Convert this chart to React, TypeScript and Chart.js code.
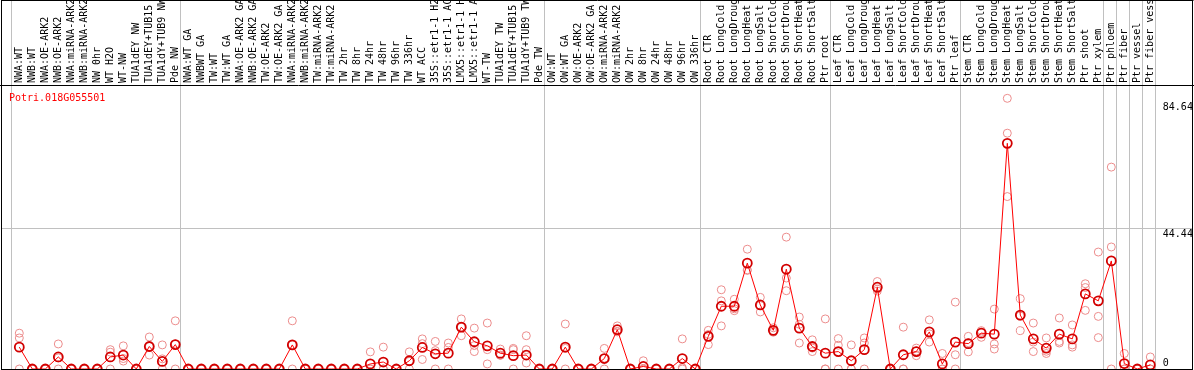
import React, { useEffect, useRef } from 'react';
import { Chart, registerables } from 'chart.js';

Chart.register(...registerables);

const GENE_ID = 'Potri.018G055501';

const CATEGORIES = [
  'NWA:WT', 'NWB:WT', 'NWA:OE-ARK2', 'NWB:OE-ARK2', 'NWA:miRNA-ARK2', 'NWB:miRNA-ARK2', 'NW 0hr', 'WT H2O', 'WT-NW',
  'TUA1dEY NW', 'TUA1dEY+TUB15 NW', 'TUA1dY+TUB9 NW', 'Pde NW',
  'NWA:WT GA', 'NWBWT GA', 'TW:WT', 'TW:WT GA', 'NWA:OE-ARK2 GA', 'NWB:OE-ARK2 GA', 'TW:OE-ARK2', 'TW:OE-ARK2 GA',
  'NWA:miRNA-ARK2', 'NWB:miRNA-ARK2', 'TW:miRNA-ARK2', 'TW:miRNA-ARK2', 'TW 2hr', 'TW 8hr', 'TW 24hr', 'TW 48hr',
  'TW 96hr', 'TW 336hr', 'WT ACC', '35S::etr1-1 H2O', '35S::etr1-1 ACC', 'LMX5::etr1-1 H2O', 'LMX5::etr1-1 ACC',
  'WT-TW', 'TUA1dEY TW', 'TUA1dEY+TUB15 TW', 'TUA1dY+TUB9 TW', 'Pde TW',
  'OW:WT', 'OW:WT GA', 'OW:OE-ARK2', 'OW:OE-ARK2 GA', 'OW:miRNA-ARK2', 'OW:miRNA-ARK2', 'OW 2hr', 'OW 8hr',
  'OW 24hr', 'OW 48hr', 'OW 96hr', 'OW 336hr',
  'Root CTR', 'Root LongCold', 'Root LongDrought', 'Root LongHeat', 'Root LongSalt', 'Root ShortCold',
  'Root ShortDrought', 'Root ShortHeat', 'Root ShortSalt', 'Ptr root',
  'Leaf CTR', 'Leaf LongCold', 'Leaf LongDrought', 'Leaf LongHeat', 'Leaf LongSalt', 'Leaf ShortCold',
  'Leaf ShortDrought', 'Leaf ShortHeat', 'Leaf ShortSalt', 'Ptr leaf',
  'Stem CTR', 'Stem LongCold', 'Stem LongDrought', 'Stem LongHeat', 'Stem LongSalt', 'Stem ShortCold',
  'Stem ShortDrought', 'Stem ShortHeat', 'Stem ShortSalt', 'Ptr shoot', 'Ptr xylem',
  'Ptr phloem', 'Ptr fiber', 'Ptr vessel', 'Ptr fiber vessel',
];

const MEAN_VALUES = [
  6.9, 0, 0, 3.8, 0, 0, 0, 3.8, 4.4, 0, 7.1, 2.4, 7.7,
  0, 0, 0, 0, 0, 0, 0, 0, 7.6, 0, 0, 0, 0, 0, 1.6, 2.2, 0, 2.6, 6.8, 4.8, 5.0, 13.2, 8.6, 7.3, 5.0, 4.2, 4.4, 0,
  0, 6.9, 0, 0, 3.3, 12.4, 0, 0.8, 0, 0, 3.3, 0,
  10.3, 19.8, 19.8, 33.4, 20.2, 12.2, 31.5, 12.9, 7.1, 5.0,
  5.5, 2.6, 6.1, 25.8, 0, 4.5, 5.5, 11.7, 1.6, 8.5,
  8.0, 11.3, 11.0, 71.2, 17.0, 9.5, 6.6, 11.0, 9.5, 23.7, 21.5,
  34.1, 1.7, 0, 1.3,
];

const REPLICATE_A = [
  11.3, 0, 0, 7.9, 0, 0, 0, 6.1, 7.3, 0, 10.1, 7.6, 15.2,
  0, 0, 0, 0, 0, 0, 0, 0, 15.2, 0, 0, 0, 0, 0, 5.4, 6.9, 0, 5.4, 9.5, 8.7, 8.2, 15.8, 12.9, 14.5, 6.3, 6.1, 10.5, 0,
  0, 14.2, 0, 0, 6.5, 13.6, 0, 2.6, 0, 0, 9.5, 0,
  12.2, 25.0, 22.0, 37.8, 22.6, 13.0, 41.6, 16.4, 9.2, 15.8,
  9.6, 7.6, 9.8, 27.6, 0, 13.2, 6.6, 15.5, 4.9, 21.1,
  10.3, 12.1, 18.9, 85.4, 22.2, 14.5, 9.8, 16.1, 13.9, 26.9, 36.9,
  63.7, 4.9, 0, 3.8,
];

const REPLICATE_B = [
  9.8, 0, 0, 3.5, 0, 0, 0, 5.3, 3.3, 0, 7.1, 3.2, 7.9,
  0, 0, 0, 0, 0, 0, 0, 0, 7.6, 0, 0, 0, 0, 0, 0, 0, 0, 2.4, 8.0, 5.8, 6.8, 13.2, 7.4, 6.1, 4.4, 6.5, 6.1, 0,
  0, 6.5, 0, 0, 3.4, 11.9, 0, 0, 0, 0, 0.4, 0,
  10.9, 21.5, 19.0, 31.1, 20.0, 12.0, 28.7, 14.1, 6.6, 0,
  7.5, 0, 8.2, 25.2, 0, 0, 5.7, 11.1, 0, 4.5,
  8.3, 11.6, 7.9, 74.4, 16.7, 8.5, 5.6, 8.7, 7.6, 25.7, 16.6,
  38.5, 0, 0, 0,
];

const REPLICATE_C = [
  0, 0, 0, 0, 0, 0, 0, 0, 2.5, 0, 4.4, 0, 0,
  0, 0, 0, 0, 0, 0, 0, 0, 0, 0, 0, 0, 0, 0, 0, 0, 0, 0, 3.0, 0, 0, 10.5, 5.5, 1.6, 4.3, 0, 1.9, 0,
  0, 0, 0, 0, 0, 11.7, 0, 0, 0, 0, 0, 0,
  7.7, 13.6, 18.4, 31.3, 18.0, 11.6, 24.7, 8.2, 5.5, 0,
  0, 0, 0, 24.6, 0, 0, 4.2, 8.5, 0, 0,
  5.4, 10.0, 6.3, 54.4, 12.1, 5.5, 4.9, 8.2, 6.9, 18.5, 9.9,
  0, 0, 0, 0,
];

const Y_TICKS = [0, 44.44, 84.64];
const Y_GRID = [44.44];
const Y_MAX = 89.6;
// separators are drawn just after these category indices (-1 = before the first one)
const GROUP_ENDS = [-1, 12, 40, 52, 62, 72, 83, 84, 85, 86, 87];

const FONT = '10px "DejaVu Sans Mono", monospace';

const framePlugin = {
  id: 'frame',
  beforeDatasetsDraw(chart: any) {
    const { ctx, chartArea, scales } = chart;
    const x = scales.x;
    const y = scales.y;
    const W = chart.width;
    ctx.save();
    ctx.strokeStyle = '#c0c0c0';
    ctx.lineWidth = 1;
    for (const k of GROUP_ENDS) {
      const px = Math.round(x.getPixelForValue(k + 0.38)) + 0.5;
      ctx.beginPath();
      ctx.moveTo(px, 0);
      ctx.lineTo(px, chartArea.bottom);
      ctx.stroke();
    }
    for (const v of Y_GRID) {
      const py = Math.round(y.getPixelForValue(v)) + 0.5;
      ctx.beginPath();
      ctx.moveTo(1, py);
      ctx.lineTo(W - 1, py);
      ctx.stroke();
    }
    ctx.restore();
  },
  afterDraw(chart: any) {
    const { ctx, chartArea, scales } = chart;
    const y = scales.y;
    const W = chart.width;
    const bottom = Math.round(chartArea.bottom) + 0.5;
    ctx.save();
    ctx.strokeStyle = '#000';
    ctx.lineWidth = 1;
    ctx.beginPath();
    ctx.moveTo(1.5, 0.5);
    ctx.lineTo(W - 0.5, 0.5);
    ctx.moveTo(1.5, 0);
    ctx.lineTo(1.5, bottom);
    ctx.moveTo(W - 1.5, 0);
    ctx.lineTo(W - 1.5, bottom);
    ctx.moveTo(0, Math.round(chartArea.top) + 0.5);
    ctx.lineTo(W, Math.round(chartArea.top) + 0.5);
    ctx.moveTo(1, bottom);
    ctx.lineTo(W - 1, bottom);
    ctx.stroke();

    ctx.font = FONT;
    ctx.textAlign = 'left';
    ctx.textBaseline = 'alphabetic';
    ctx.fillStyle = '#000';
    for (const v of Y_TICKS) {
      const py = y.getPixelForValue(v);
      ctx.fillText(String(v), chartArea.right + 6, v === 0 ? py - 3 : py + 9);
    }
    ctx.fillStyle = '#ff0000';
    ctx.fillText(GENE_ID, 9, chartArea.top + 16);
    ctx.restore();
  },
};

export default function App() {
  const canvasRef = useRef<HTMLCanvasElement | null>(null);

  useEffect(() => {
    document.body.style.margin = '0';
    const canvas = canvasRef.current;
    if (!canvas) return;
    const replicateStyle = {
      type: 'line' as const,
      showLine: false,
      pointRadius: 4,
      pointBorderWidth: 1,
      pointBorderColor: '#ec8c8c',
      pointBackgroundColor: 'rgba(0,0,0,0)',
      borderColor: '#ec8c8c',
    };
    const chart = new Chart(canvas, {
      type: 'line',
      data: {
        labels: CATEGORIES,
        datasets: [
          {
            label: 'mean',
            data: MEAN_VALUES,
            borderColor: '#ff0000',
            borderWidth: 1,
            pointRadius: 4.5,
            pointBorderWidth: 1.8,
            pointBorderColor: '#d20000',
            pointBackgroundColor: 'rgba(0,0,0,0)',
            tension: 0,
          },
          { label: 'rep A', data: REPLICATE_A, ...replicateStyle },
          { label: 'rep B', data: REPLICATE_B, ...replicateStyle },
          { label: 'rep C', data: REPLICATE_C, ...replicateStyle },
        ],
      },
      options: {
        responsive: false,
        animation: false,
        events: [],
        layout: { autoPadding: false, padding: { left: 12.8, right: 37.2, top: 0, bottom: 1 } },
        plugins: { legend: { display: false }, tooltip: { enabled: false }, title: { display: false } },
        scales: {
          x: {
            type: 'category',
            position: 'top',
            offset: true,
            grid: { display: false, drawTicks: false },
            border: { display: false },
            ticks: {
              autoSkip: false,
              minRotation: 90,
              maxRotation: 90,
              padding: 2,
              labelOffset: 12,
              color: '#000',
              font: { family: '"DejaVu Sans Mono", monospace', size: 10 },
            },
            afterFit: (scale: any) => {
              scale.height = 85;
            },
          },
          y: {
            display: false,
            min: 0,
            max: Y_MAX,
          },
        },
      },
      plugins: [framePlugin],
    });
    return () => chart.destroy();
  }, []);

  return (
    <div style={{ width: 1194, height: 370, background: '#fff' }}>
      <canvas ref={canvasRef} width={1194} height={370} style={{ display: 'block' }} />
    </div>
  );
}
